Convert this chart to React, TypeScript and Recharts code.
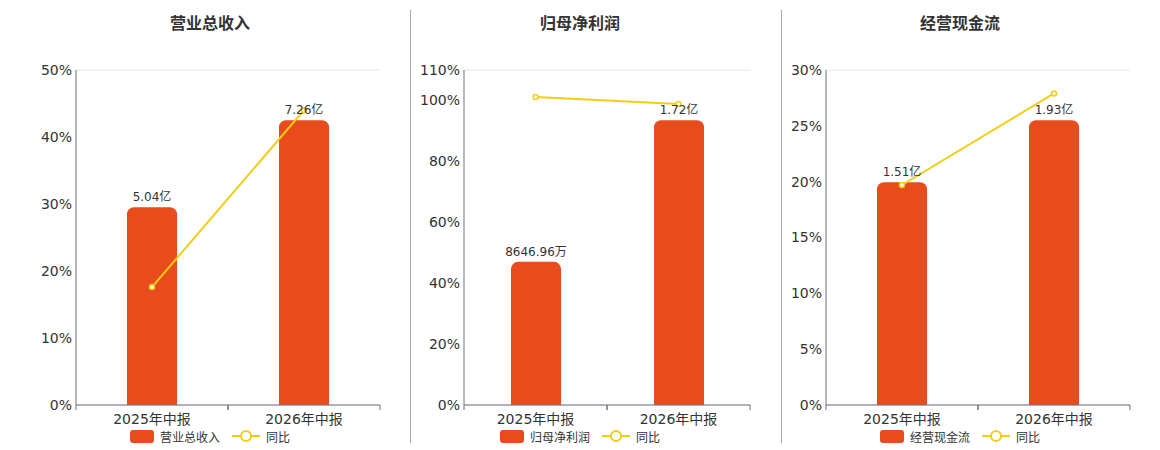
import { ComposedChart, Bar, Line, XAxis, YAxis, CartesianGrid, LabelList, Legend } from 'recharts';

const periods = ['2025年中报', '2026年中报'];

// 金额，单位亿元
const revenue = [5.04, 7.26];
const netProfit = [0.864696, 1.72];
const operatingCash = [1.51, 1.93];

// 同比 %
const revenueYoy = [17.6, 44.0];
const netProfitYoy = [101.1, 98.8];
const operatingCashYoy = [19.7, 27.9];

const revenueTicks = [0, 10, 20, 30, 40, 50];
const netProfitTicks = [0, 20, 40, 60, 80, 100, 110];
const operatingCashTicks = [0, 5, 10, 15, 20, 25, 30];

const BAR_COLOR = '#E84B1C';
const LINE_COLOR = '#F3CD13';
const AXIS_COLOR = '#6E7079';
const FONT = '"DejaVu Sans", "Noto Sans CJK SC", sans-serif';
const CJK = '"Noto Sans CJK SC", "DejaVu Sans", sans-serif';

const fmtAmount = (v: number) => (v < 1 ? `${(v * 10000).toFixed(2)}万` : `${v.toFixed(2)}亿`);

interface PanelProps {
  title: string;
  name: string;
  amounts: number[];
  yoy: number[];
  ticks: number[];
  left: number;
  width: number;
  axisX: number;
  plotRight: number;
  center: number;
}

function CategoryTick(props: any) {
  const { x, y, payload, half } = props;
  return (
    <g>
      <line x1={x - half} x2={x - half} y1={y - 8} y2={y - 3} stroke={AXIS_COLOR} />
      <line x1={x + half} x2={x + half} y1={y - 8} y2={y - 3} stroke={AXIS_COLOR} />
      <text x={x} y={y} dy={11} textAnchor="middle" fill="#333" fontSize={14} fontFamily={FONT}>
        {payload.value}
      </text>
    </g>
  );
}

function PanelLegend({ name }: { name: string }) {
  return (
    <div style={{ display: 'flex', justifyContent: 'center', alignItems: 'center', fontFamily: CJK, fontSize: 12, color: '#333', height: 16 }}>
      <span style={{ display: 'inline-block', width: 24, height: 13, borderRadius: 3, background: BAR_COLOR, marginRight: 6 }} />
      <span style={{ marginRight: 12 }}>{name}</span>
      <svg width={28} height={14} style={{ marginRight: 6 }}>
        <line x1={0} x2={28} y1={7} y2={7} stroke={LINE_COLOR} strokeWidth={2} />
        <circle cx={14} cy={7} r={5} fill="#fff" stroke={LINE_COLOR} strokeWidth={2} />
      </svg>
      <span>同比</span>
    </div>
  );
}

function Panel({ title, name, amounts, yoy, ticks, left, width, axisX, plotRight, center }: PanelProps) {
  const data = periods.map((p, i) => ({ period: p, amount: amounts[i], yoy: yoy[i] }));
  const yAxisWidth = axisX - left;
  const marginRight = width - (plotRight - left);
  const half = (plotRight - axisX) / 4;
  const amountMax = Math.max(...amounts) / 0.85;
  return (
    <div style={{ position: 'absolute', left, top: 0, width, height: 450 }}>
      <div
        style={{
          position: 'absolute',
          left: center - left - 150,
          width: 300,
          top: 12,
          lineHeight: '20px',
          textAlign: 'center',
          fontFamily: CJK,
          fontWeight: 'bold',
          fontSize: 16,
          color: '#333',
        }}
      >
        {title}
      </div>
      <ComposedChart width={width} height={450} data={data} margin={{ top: 70, right: marginRight, bottom: 6, left: 0 }}>
        <CartesianGrid vertical={false} stroke="#E0E6F1" />
        <XAxis
          dataKey="period"
          height={23}
          axisLine={{ stroke: AXIS_COLOR }}
          tickLine={false}
          tick={<CategoryTick half={half} />}
          interval={0}
        />
        <YAxis
          yAxisId="pct"
          width={yAxisWidth}
          domain={[0, ticks[ticks.length - 1]]}
          ticks={ticks}
          interval={0}
          tickFormatter={(v) => `${v}%`}
          axisLine={{ stroke: AXIS_COLOR }}
          tickLine={false}
          tickSize={2}
          tick={{ fill: '#333', fontSize: 14, fontFamily: FONT }}
        />
        <YAxis yAxisId="amt" orientation="right" hide domain={[0, amountMax]} />
        <Legend
          verticalAlign="bottom"
          height={16}
          wrapperStyle={{ left: center - left - 150, width: 300 }}
          content={() => <PanelLegend name={name} />}
        />
        <Bar yAxisId="amt" dataKey="amount" name={name} fill={BAR_COLOR} barSize={50} radius={[7, 7, 0, 0]} isAnimationActive={false}>
          <LabelList dataKey="amount" position="top" offset={6} formatter={(v: any) => fmtAmount(Number(v))} fill="#333" fontSize={12} fontFamily={FONT} />
        </Bar>
        <Line
          yAxisId="pct"
          dataKey="yoy"
          name="同比"
          stroke={LINE_COLOR}
          strokeWidth={2}
          dot={{ r: 2.5, fill: '#fff', stroke: LINE_COLOR, strokeWidth: 1.5 }}
          isAnimationActive={false}
        />
      </ComposedChart>
    </div>
  );
}

export default function App() {
  return (
    <div style={{ position: 'absolute', left: 0, top: 0, width: 1160, height: 450, background: '#fff' }}>
      <Panel title="营业总收入" name="营业总收入" amounts={revenue} yoy={revenueYoy} ticks={revenueTicks} left={0} width={410} axisX={76} plotRight={380} center={210} />
      <Panel title="归母净利润" name="归母净利润" amounts={netProfit} yoy={netProfitYoy} ticks={netProfitTicks} left={410} width={371} axisX={464} plotRight={750} center={580} />
      <Panel title="经营现金流" name="经营现金流" amounts={operatingCash} yoy={operatingCashYoy} ticks={operatingCashTicks} left={781} width={379} axisX={826} plotRight={1130} center={960} />
      <div style={{ position: 'absolute', left: 410, top: 10, width: 1, height: 433, background: '#aaa' }} />
      <div style={{ position: 'absolute', left: 781, top: 10, width: 1, height: 433, background: '#aaa' }} />
    </div>
  );
}
